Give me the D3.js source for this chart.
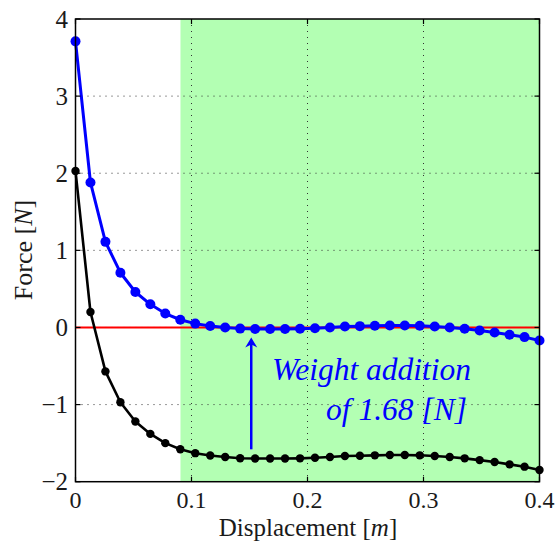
<!DOCTYPE html>
<html><head><meta charset="utf-8">
<script src="https://cdn.jsdelivr.net/npm/d3@7"></script>
<style>body{margin:0;background:#fff}svg{display:block}</style>
</head><body>
<svg id="c" width="558" height="541" font-family="'Liberation Serif', 'Times New Roman', serif"></svg>
<script>
const nPts = 32;
const xMax = 0.4;
const blueForce = [3.71,1.88,1.11,0.71,0.46,0.30,0.18,0.10,0.05,0.02,0.00,-0.015,-0.02,-0.02,-0.02,-0.017,-0.01,0.0,0.013,0.017,0.022,0.026,0.026,0.022,0.013,0.0,-0.017,-0.039,-0.065,-0.095,-0.125,-0.168];
const blackForce = [2.03,0.20,-0.57,-0.97,-1.22,-1.38,-1.50,-1.58,-1.63,-1.66,-1.68,-1.695,-1.70,-1.70,-1.70,-1.697,-1.69,-1.68,-1.667,-1.663,-1.658,-1.654,-1.654,-1.658,-1.667,-1.68,-1.697,-1.72,-1.745,-1.775,-1.805,-1.848];
const displacement = d3.range(nPts).map(i => i * xMax / (nPts - 1));
const xTicks = [0, 0.1, 0.2, 0.3, 0.4];
const yTicks = [-2, -1, 0, 1, 2, 3, 4];
const greenRegion = [0.0905, 0.4];
const arrowX = 0.1515, arrowTop = -0.13, arrowBottom = -1.58;

const L = 75.5, R = 539.5, T = 19, B = 481.7;
const svg = d3.select("#c");
const x = d3.scaleLinear().domain([0, 0.4]).range([L, R]);
const y = d3.scaleLinear().domain([-2, 4]).range([B, T]);

svg.append("rect").attr("x", x(greenRegion[0])).attr("y", T)
  .attr("width", x(greenRegion[1]) - x(greenRegion[0])).attr("height", B - T)
  .attr("fill", "#b3ffb3");

const g = svg.append("g").attr("stroke", "#333").attr("stroke-width", 1).attr("stroke-dasharray", "1,5");
xTicks.slice(1, -1).forEach(t => g.append("line").attr("x1", x(t)).attr("x2", x(t)).attr("y1", T).attr("y2", B));
yTicks.slice(1, -1).forEach(t => g.append("line").attr("x1", L).attr("x2", R).attr("y1", y(t)).attr("y2", y(t)));

svg.append("line").attr("x1", x(0)).attr("x2", x(0.4)).attr("y1", y(0)).attr("y2", y(0))
  .attr("stroke", "#ff0000").attr("stroke-width", 2);

const line = d3.line().x((d, i) => x(displacement[i])).y(d => y(d));
function series(data, color, r, w) {
  svg.append("path").datum(data).attr("d", line).attr("fill", "none").attr("stroke", color).attr("stroke-width", w).attr("stroke-linejoin", "round");
  svg.append("g").selectAll("circle").data(data).join("circle")
    .attr("cx", (d, i) => x(displacement[i])).attr("cy", d => y(d)).attr("r", r).attr("fill", color);
}
series(blackForce, "#000", 4.2, 2.6);
series(blueForce, "#0000ff", 5, 3);

const ax = x(arrowX), at = y(arrowTop), ab = y(arrowBottom);
svg.append("line").attr("x1", ax).attr("x2", ax).attr("y1", at + 6).attr("y2", ab).attr("stroke", "#0000ff").attr("stroke-width", 2.5);
svg.append("path").attr("d", `M${ax},${at} L${ax - 6},${at + 10} L${ax},${at + 7} L${ax + 6},${at + 10} Z`).attr("fill", "#0000ff");

svg.append("text").attr("x", 371.5).attr("y", 380).attr("text-anchor", "middle").attr("font-style", "italic").attr("font-size", 31.5).attr("fill", "#0000ff").text("Weight addition");
svg.append("text").attr("x", 396.5).attr("y", 420).attr("text-anchor", "middle").attr("font-style", "italic").attr("font-size", 31.5).attr("fill", "#0000ff").text("of 1.68 [N]");

svg.append("rect").attr("x", L).attr("y", T).attr("width", R - L).attr("height", B - T).attr("fill", "none").attr("stroke", "#000").attr("stroke-width", 1.5);
const tk = svg.append("g").attr("stroke", "#000").attr("stroke-width", 1.2);
const tl = 5;
xTicks.forEach(t => {
  tk.append("line").attr("x1", x(t)).attr("x2", x(t)).attr("y1", B).attr("y2", B - tl);
  tk.append("line").attr("x1", x(t)).attr("x2", x(t)).attr("y1", T).attr("y2", T + tl);
});
yTicks.forEach(t => {
  tk.append("line").attr("x1", L).attr("x2", L + tl).attr("y1", y(t)).attr("y2", y(t));
  tk.append("line").attr("x1", R).attr("x2", R - tl).attr("y1", y(t)).attr("y2", y(t));
});
const fmtX = d => d === 0 ? "0" : d3.format(".1f")(d);
svg.append("g").selectAll("text").data(xTicks).join("text")
  .attr("x", d => x(d)).attr("y", 508).attr("text-anchor", "middle").attr("font-size", 24).attr("fill", "#1a1a1a").text(fmtX);
svg.append("g").selectAll("text").data(yTicks).join("text")
  .attr("x", 68).attr("y", d => y(d) + 8.5).attr("text-anchor", "end").attr("font-size", 25).attr("fill", "#1a1a1a")
  .text(d => d < 0 ? "\u2212" + Math.abs(d) : String(d));

const xl = svg.append("text").attr("x", 308).attr("y", 535.5).attr("text-anchor", "middle").attr("font-size", 25).attr("fill", "#1a1a1a");
xl.append("tspan").text("Displacement [");
xl.append("tspan").attr("font-style", "italic").text("m");
xl.append("tspan").text("]");
const yl = svg.append("text").attr("transform", "translate(32,250) rotate(-90)").attr("text-anchor", "middle").attr("font-size", 26).attr("fill", "#1a1a1a");
yl.append("tspan").text("Force [");
yl.append("tspan").attr("font-style", "italic").text("N");
yl.append("tspan").text("]");
</script>
</body></html>
